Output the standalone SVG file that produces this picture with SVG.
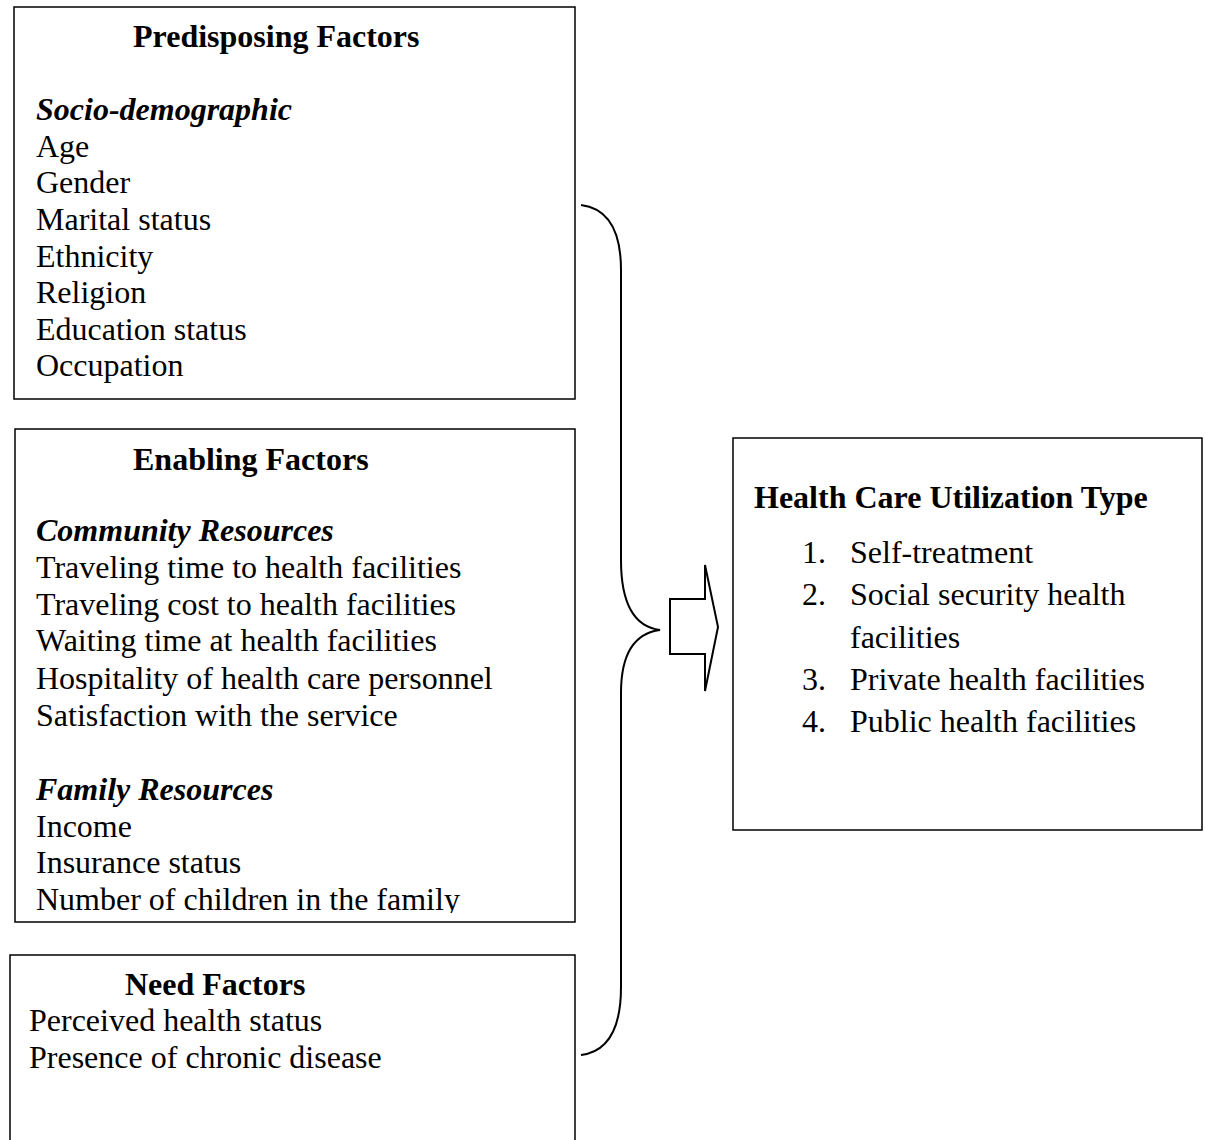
<svg xmlns="http://www.w3.org/2000/svg" width="1205" height="1140" viewBox="0 0 1205 1140">
<style>
.box{fill:#fff;stroke:#000;stroke-width:1.5}
text{font-family:"Liberation Serif","Times New Roman",serif;font-size:32px;fill:#000}
.b{font-weight:bold}
.bi{font-weight:bold;font-style:italic}
.ln{fill:none;stroke:#000;stroke-width:2}
</style>
<defs>
<clipPath id="clipE"><rect x="15" y="429" width="560" height="484"/></clipPath>
</defs>
<rect width="1205" height="1140" fill="#fff"/>
<g id="predisposing">
<rect class="box" x="14" y="7" width="561" height="392"/>
<text class="b" x="133" y="47">Predisposing Factors</text>
<text class="bi" x="36" y="120">Socio-demographic</text>
<text x="36" y="157">Age</text>
<text x="36" y="193">Gender</text>
<text x="36" y="230">Marital status</text>
<text x="36" y="267">Ethnicity</text>
<text x="36" y="303">Religion</text>
<text x="36" y="340">Education status</text>
<text x="36" y="376">Occupation</text>
</g>
<g id="enabling">
<rect class="box" x="15" y="429" width="560" height="493"/>
<g clip-path="url(#clipE)">
<text class="b" x="133" y="470">Enabling Factors</text>
<text class="bi" x="36" y="541">Community Resources</text>
<text x="36" y="578">Traveling time to health facilities</text>
<text x="36" y="615">Traveling cost to health facilities</text>
<text x="36" y="651">Waiting time at health facilities</text>
<text x="36" y="689">Hospitality of health care personnel</text>
<text x="36" y="726">Satisfaction with the service</text>
<text class="bi" x="36" y="800">Family Resources</text>
<text x="36" y="837">Income</text>
<text x="36" y="873">Insurance status</text>
<text x="36" y="910">Number of children in the family</text>
</g>
</g>
<g id="need">
<rect class="box" x="10" y="955" width="565" height="200"/>
<text class="b" x="125" y="995">Need Factors</text>
<text x="29" y="1031">Perceived health status</text>
<text x="29" y="1068">Presence of chronic disease</text>
</g>
<g id="utilization">
<rect class="box" x="733" y="438" width="469" height="392"/>
<text class="b" x="754" y="508">Health Care Utilization Type</text>
<text x="802" y="563">1.</text><text x="850" y="563">Self-treatment</text>
<text x="802" y="605">2.</text><text x="850" y="605">Social security health</text>
<text x="850" y="648">facilities</text>
<text x="802" y="690">3.</text><text x="850" y="690">Private health facilities</text>
<text x="802" y="732">4.</text><text x="850" y="732">Public health facilities</text>
</g>
<g id="connectors">
<path class="ln" d="M581,205 Q621,210 621,270 L621,560 Q621,625 660,630 Q621,635 621,693 L621,987 Q621,1050 581,1055"/>
<polygon class="ln" points="670,599 705,599 705,565 718,627 705,691 705,654 670,654"/>
</g>
</svg>
